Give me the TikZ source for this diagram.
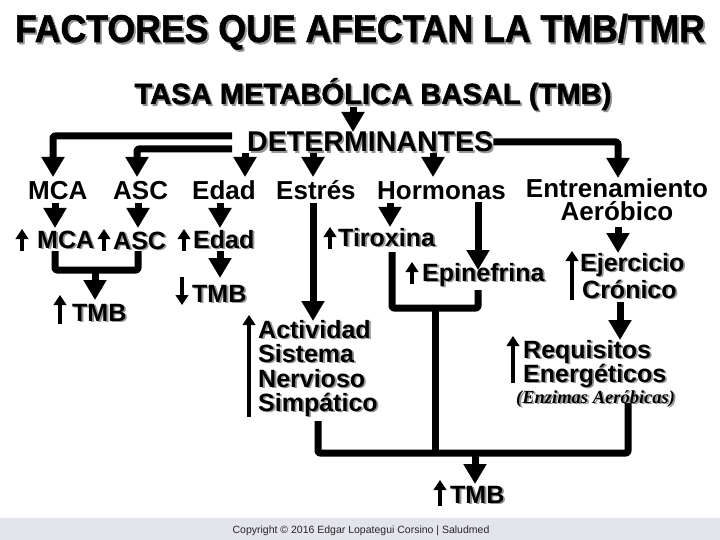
\documentclass[tikz,border=0pt]{standalone}
\usepackage{fontspec}
\setmainfont{Liberation Sans}
\newfontfamily\heavy[FakeBold=1.5]{Liberation Sans}
\newfontfamily\serifbi{Liberation Serif}
\usetikzlibrary{arrows.meta}
\definecolor{shadowc}{RGB}{150,150,150}
\definecolor{barc}{RGB}{228,228,236}
\newcommand\shd[1]{\makebox[0pt][l]{\hspace{1.8pt}\raisebox{-1.8pt}{\textcolor{shadowc}{#1}}}#1}
\tikzset{
  conn/.style={line width=7pt, line join=round, rounded corners=2pt},
  thick arr/.style={conn, -{Triangle[width=22pt,length=20pt]}},
  thin arr/.style={line width=4pt, -{Triangle[width=12.5pt,length=10pt]}},
  txt/.style={inner sep=0pt, anchor=base west},
  rowone/.style={txt, font=\bfseries\fontsize{26}{23}\selectfont},
  rowtwo/.style={txt, font=\bfseries\fontsize{25}{29}\selectfont},
}
\begin{document}
\begin{tikzpicture}[x=1pt,y=-1pt]
\useasboundingbox (0,0) rectangle (720,540);
\fill[white] (0,0) rectangle (720,540);
\fill[barc] (0,518) rectangle (720,540);
% headings
\node[inner sep=0pt, anchor=base] (title) at (360,42) {\resizebox{690pt}{28pt}{\heavy\bfseries\fontsize{35}{40}\selectfont\shd{FACTORES QUE AFECTAN LA TMB/TMR}}};
\node[inner sep=0pt, anchor=base] (sub) at (373,104) {\resizebox{477pt}{!}{\heavy\bfseries\fontsize{29}{33}\selectfont\shd{TASA METABÓLICA BASAL (TMB)}}};
\node[inner sep=0pt, anchor=base west] (det) at (247,152) {\resizebox{246pt}{!}{\bfseries\fontsize{28}{32}\selectfont\shd{DETERMINANTES}}};
% row one
\node[rowone] (mca) at (28,200) {MCA};
\node[rowone] (asc) at (113,200) {ASC};
\node[rowone] (edad) at (192,200) {Edad};
\node[rowone] (estres) at (276,200) {Estrés};
\node[rowone] (horm) at (377,200) {Hormonas};
\node[rowone, anchor=base, align=center] (entr) at (617,221) {Entrenamiento\\Aeróbico};
% row two
\node[rowtwo] (mca2) at (37,248) {\shd{MCA}};
\node[rowtwo] (asc2) at (113,249) {\shd{ASC}};
\node[rowtwo] (edad2) at (193,248) {\shd{Edad}};
\node[rowtwo] (tir) at (338,246) {\shd{Tiroxina}};
\node[rowtwo] (epi) at (422,281) {\shd{Epinefrina}};
\node[rowtwo] (ejer) at (580,271) {\shd{Ejercicio}};
\node[rowtwo] (cron) at (582,298) {\shd{Crónico}};
\node[rowtwo] (tmbl) at (72,321) {\shd{TMB}};
\node[rowtwo] (tmbe) at (192,302) {\shd{TMB}};
\node[rowtwo] (act) at (258,338) {\shd{Actividad}};
\node[rowtwo] (sis) at (258,362) {\shd{Sistema}};
\node[rowtwo] (ner) at (258,387) {\shd{Nervioso}};
\node[rowtwo] (sim) at (258,411) {\shd{Simpático}};
\node[rowtwo] (req) at (523,358) {\shd{Requisitos}};
\node[rowtwo] (ene) at (523,382) {\shd{Energéticos}};
\node[txt, font=\serifbi\bfseries\itshape\fontsize{18.5}{22}\selectfont] (enz) at (516,403) {\shd{(Enzimas Aeróbicas)}};
\node[rowtwo] (tmbb) at (450,503) {\shd{TMB}};
\node[inner sep=0pt, anchor=base, font=\fontsize{10.5}{12}\selectfont, text=black!85] (copy) at (361,533) {Copyright © 2016 Edgar Lopategui Corsino | Saludmed};
% thick connectors
\draw[thick arr] (353,107) coordinate (s0) -- (353,132) coordinate (s1);
\draw[thick arr] (232,136) coordinate (l1a) -- (53,136) -- (53,177) coordinate (l1b);
\draw[thick arr] (232,149) coordinate (l2a) -- (137,149) -- (137,177) coordinate (l2b);
\draw[thick arr] (245,153) coordinate (e1) -- (245,177) coordinate (e2);
\draw[thick arr] (313,153) coordinate (f1) -- (313,177) coordinate (f2);
\draw[thick arr] (433,153) coordinate (h1) -- (433,177) coordinate (h2);
\draw[thick arr] (det.east |- 0,142) coordinate (r1) -- (618,142) -- (618,178) coordinate (r2);
\draw[thick arr] (55,203) coordinate (m1) -- (55,228) coordinate (m2);
\draw[thick arr] (138,203) coordinate (a1) -- (138,228) coordinate (a2);
\draw[thick arr] (220,203) coordinate (d1) -- (220,228) coordinate (d2);
\draw[thick arr] (390,203) coordinate (t1) -- (390,227) coordinate (t2);
\draw[thick arr] (478,202) coordinate (p1) -- (478,270) coordinate (p2);
\draw[thick arr] (313,203) coordinate (n1) -- (313,321) coordinate (n2);
\draw[thick arr] (618,227) coordinate (g1) -- (618,253) coordinate (g2);
\draw[thick arr] (620,302) coordinate (c1) -- (620,340) coordinate (c2);
\draw[conn] (55,251) coordinate (b1) -- (55,270) -- (138,270) -- (138,251) coordinate (b2);
\draw[thick arr] (95,270) coordinate (b3) -- (95,300) coordinate (b4);
\draw[thick arr] (220,251) coordinate (d3) -- (220,278) coordinate (d4);
\draw[conn] (392,252) coordinate (k1) -- (392,308) -- (478,308) -- (478,290) coordinate (k2);
\draw[conn] (435,308) coordinate (k3) -- (435,453) coordinate (k4);
\draw[conn] (318,421) coordinate (q1) -- (318,453) -- (628,453) -- (628,403) coordinate (q2);
\draw[thick arr] (475,453) coordinate (q3) -- (475,484) coordinate (q4);
% thin up/down arrows
\draw[thin arr] (22,251) coordinate (u1) -- (22,229);
\draw[thin arr] (104,251) coordinate (u2) -- (104,229);
\draw[thin arr] (184,251) coordinate (u3) -- (184,229);
\draw[thin arr] (330,249) coordinate (u4) -- (330,227);
\draw[thin arr] (412,284) coordinate (u5) -- (412,262);
\draw[thin arr] (572,300) coordinate (u6) -- (572,251);
\draw[thin arr] (60,324) coordinate (u7) -- (60,295);
\draw[thin arr] (182,277) coordinate (u8) -- (182,305);
\draw[thin arr] (249,417) coordinate (u9) -- (249,315);
\draw[thin arr] (513,383) coordinate (u10) -- (513,336);
\draw[thin arr] (440,506) coordinate (u11) -- (440,480);
\end{tikzpicture}
\end{document}
